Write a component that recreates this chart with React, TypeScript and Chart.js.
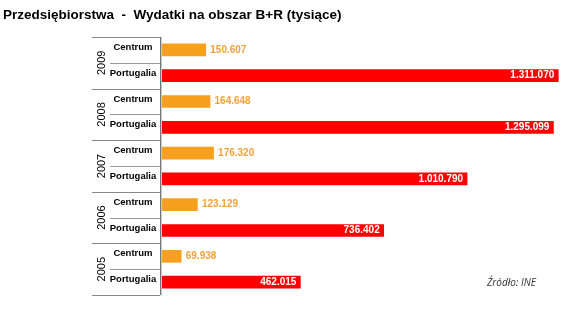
import React, { useEffect, useRef } from "react";
import { Chart, registerables } from "chart.js";

Chart.register(...registerables);

const title = "Przedsiębiorstwa  -  Wydatki na obszar B+R (tysiące)";
const years = ["2009", "2008", "2007", "2006", "2005"];
const seriesNames = ["Centrum", "Portugalia"];
const centrum = [150607, 164648, 176320, 123129, 69938];
const portugalia = [1311070, 1295099, 1010790, 736402, 462015];
const sourceNote = "Źródło: INE";

const ORANGE = "#F7A01E";
const RED = "#FF0000";

const fmt = (v: number) => String(v).replace(/\B(?=(\d{3})+(?!\d))/g, ".");

export default function App() {
  const ref = useRef<HTMLCanvasElement | null>(null);

  useEffect(() => {
    if (!ref.current) return;
    const labels: string[] = [];
    const values: number[] = [];
    const colors: string[] = [];
    years.forEach((_, i) => {
      labels.push(seriesNames[0]);
      values.push(centrum[i]);
      colors.push(ORANGE);
      labels.push(seriesNames[1]);
      values.push(portugalia[i]);
      colors.push(RED);
    });

    const decor = {
      id: "decor",
      afterDraw(chart: any) {
        const ctx = chart.ctx;
        const y = chart.scales.y;
        const area = chart.chartArea;
        const step = y.getPixelForValue(1) - y.getPixelForValue(0);
        ctx.save();
        ctx.fillStyle = "#000";
        ctx.font = "bold 13.5px 'Liberation Sans', Arial, sans-serif";
        ctx.textBaseline = "middle";
        ctx.textAlign = "left";
        ctx.fillText(title, 3, 15);

        const left = 92;
        const axisX = area.left;
        ctx.lineWidth = 1;
        const top = y.getPixelForValue(0) - step / 2;
        const bottom = y.getPixelForValue(labels.length - 1) + step / 2;
        ctx.strokeStyle = "#c8c8c8";
        ctx.beginPath();
        ctx.moveTo(axisX + 1.5, top);
        ctx.lineTo(axisX + 1.5, bottom + 1);
        ctx.stroke();
        ctx.strokeStyle = "#777";
        ctx.beginPath();
        ctx.moveTo(axisX + 0.5, top);
        ctx.lineTo(axisX + 0.5, bottom);
        ctx.stroke();

        years.forEach((yr, i) => {
          const c0 = y.getPixelForValue(2 * i);
          const c1 = y.getPixelForValue(2 * i + 1);
          const gTop = c0 - step / 2;
          const gBot = c1 + step / 2;
          const mid = (c0 + c1) / 2;
          ctx.strokeStyle = "#888";
          ctx.beginPath();
          ctx.moveTo(left, Math.round(gTop) + 0.5);
          ctx.lineTo(axisX, Math.round(gTop) + 0.5);
          ctx.stroke();
          if (i === years.length - 1) {
            ctx.beginPath();
            ctx.moveTo(left, Math.round(gBot) + 0.5);
            ctx.lineTo(axisX, Math.round(gBot) + 0.5);
            ctx.stroke();
          }
          ctx.strokeStyle = "#999";
          ctx.beginPath();
          ctx.moveTo(110, Math.round(mid) + 0.5);
          ctx.lineTo(axisX, Math.round(mid) + 0.5);
          ctx.stroke();

          ctx.save();
          ctx.translate(101.5, mid);
          ctx.rotate(-Math.PI / 2);
          ctx.fillStyle = "#000";
          ctx.font = "11px 'Liberation Sans', Arial, sans-serif";
          ctx.textAlign = "center";
          ctx.textBaseline = "middle";
          ctx.fillText(yr, 0, 0);
          ctx.restore();

          ctx.fillStyle = "#000";
          ctx.font = "bold 9.5px 'Liberation Sans', Arial, sans-serif";
          ctx.textAlign = "center";
          ctx.textBaseline = "middle";
          ctx.fillText(seriesNames[0], 133, c0 - 2.5);
          ctx.fillText(seriesNames[1], 133, c1 - 2.5);
        });

        const meta = chart.getDatasetMeta(0);
        ctx.font = "bold 10px 'Liberation Sans', Arial, sans-serif";
        ctx.textBaseline = "middle";
        meta.data.forEach((bar: any, idx: number) => {
          const v = values[idx];
          if (idx % 2 === 0) {
            ctx.fillStyle = "#F2A23A";
            ctx.textAlign = "left";
            ctx.fillText(fmt(v), bar.x + 4.5, bar.y);
          } else {
            ctx.fillStyle = "#fff";
            ctx.textAlign = "right";
            ctx.fillText(fmt(v), bar.x - 4, bar.y);
          }
        });

        ctx.fillStyle = "#333";
        ctx.font = "italic 10px 'Open Sans', sans-serif";
        ctx.textAlign = "left";
        ctx.textBaseline = "middle";
        ctx.fillText(sourceNote, 487, 283);
        ctx.restore();
      },
    };

    const chart = new Chart(ref.current, {
      type: "bar",
      data: {
        labels,
        datasets: [
          {
            data: values,
            backgroundColor: colors,
            borderWidth: 0,
            barThickness: 12,
          },
        ],
      },
      options: {
        indexAxis: "y",
        responsive: false,
        animation: false,
        layout: { padding: { left: 160, right: 9, top: 37, bottom: 20 } },
        plugins: {
          legend: { display: false },
          tooltip: { enabled: false },
          title: { display: false },
        },
        scales: {
          x: { display: false, min: 0, max: 1320000 },
          y: { display: false },
        },
      },
      plugins: [decor],
    });
    return () => chart.destroy();
  }, []);

  return (
    <div style={{ position: "fixed", left: 0, top: 0, width: 570, height: 315, background: "#fff" }}>
      <canvas ref={ref} width={570} height={315} />
    </div>
  );
}
